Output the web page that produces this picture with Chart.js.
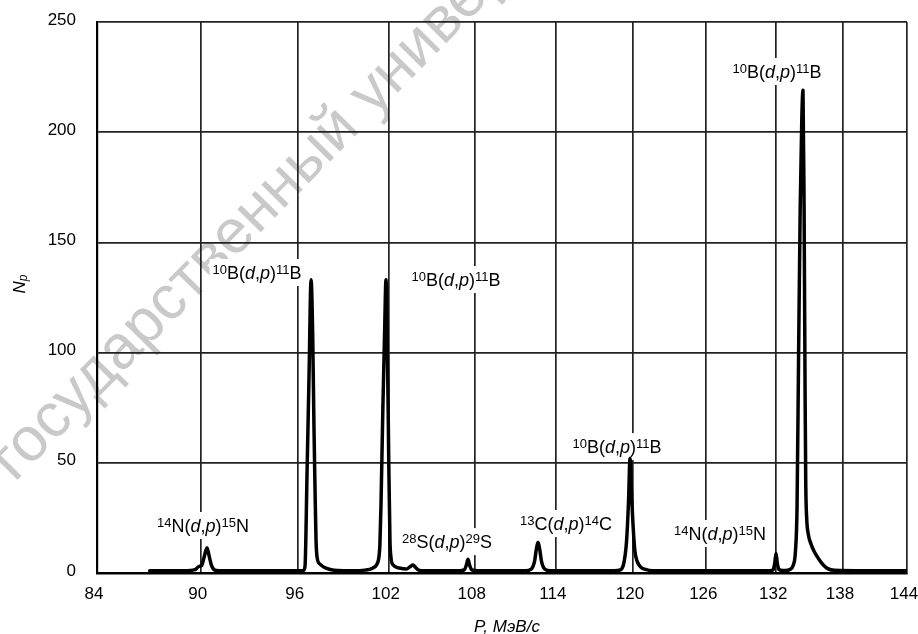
<!DOCTYPE html>
<html>
<head>
<meta charset="utf-8">
<script src="https://cdn.jsdelivr.net/npm/chart.js@4.4.1/dist/chart.umd.min.js"></script>
<style>
  html, body { margin: 0; padding: 0; background: #fff; }
  #wrap { width: 918px; height: 634px; position: relative; }
</style>
</head>
<body>
<div id="wrap"><canvas id="spectrum"></canvas></div>
<script>
// proton momentum P (MeV/c) and counts Np
var momentum = [
  87.0, 89.0, 89.66, 89.9, 90.05, 90.2, 90.38, 90.5, 90.65, 90.85, 91.1, 93.5,
  95.8, 96.35, 96.47, 96.6, 96.73, 96.86, 96.96, 97.05, 97.11, 97.18, 97.25, 97.44, 97.7, 98.1, 98.6, 99.5,
  100.4, 100.9, 101.2, 101.33, 101.4, 101.47, 101.6, 101.72, 101.81, 101.92, 102.0, 102.08, 102.15, 102.3, 102.7,
  103.2, 103.45, 103.66, 103.85, 104.05, 104.4,
  106.9, 107.25, 107.4, 107.52, 107.64, 107.8, 108.2,
  111.7, 112.15, 112.38, 112.53, 112.65, 112.77, 112.92, 113.15, 113.6,
  118.5, 119.0, 119.25, 119.48, 119.64, 119.76, 119.88, 120.0, 120.15, 120.32, 120.6, 121.0, 121.6, 126.5,
  131.2, 131.7, 131.87, 131.98, 132.09, 132.26, 132.55,
  132.8, 133.2, 133.5, 133.7, 133.84, 133.98, 134.12, 134.26, 134.37, 134.47, 134.56, 134.62, 134.7, 134.85,
  135.1, 135.4, 135.8, 136.2, 136.6, 137.2, 140, 144
];
var counts = [
  1, 1, 1.5, 3, 3.3, 7, 11.5, 8, 3.5, 1.3, 1, 1,
  1, 1.1, 3, 45, 90, 133, 110, 65, 40, 15, 7, 4, 2.6, 1.6, 1.1, 1,
  1.3, 2.2, 4, 7, 13, 30, 75, 110, 133, 95, 50, 15, 7, 3.6, 2.3,
  1.8, 2.8, 3.6, 2.4, 1.3, 1,
  1, 1.4, 3.5, 6.2, 3.5, 1.4, 1,
  1, 1.8, 5, 11, 14, 11, 5, 1.8, 1,
  1, 1.4, 4, 14, 32, 52, 36, 22, 10, 5.5, 2.8, 1.6, 1, 1,
  1, 1.3, 4.5, 9, 4.5, 1.5, 1.1,
  1.1, 1.6, 3.5, 10, 30, 100, 165, 205, 219, 165, 80, 40, 25, 17.5,
  13, 9.5, 6.2, 3.6, 2, 1.2, 1, 1
];
var xTicks = [84, 90, 96, 102, 108, 114, 120, 126, 132, 138, 144];
var yTicks = [0, 50, 100, 150, 200, 250];

// reaction labels: where they sit (P, Np of the text baseline) and the nuclei
var reactionX = [90.14, 93.44, 106.66, 106.03, 114.77, 118.73, 127.15, 132.07];
var reactionY = [18.6, 133.4, 130.2, 11.3, 19.5, 54.4, 15.0, 224.6];
var reactionNuclei = [
  ['14', 'N', '15', 'N'],
  ['10', 'B', '11', 'B'],
  ['10', 'B', '11', 'B'],
  ['28', 'S', '29', 'S'],
  ['13', 'C', '14', 'C'],
  ['10', 'B', '11', 'B'],
  ['14', 'N', '15', 'N'],
  ['10', 'B', '11', 'B']
];

var FONT = '"Liberation Sans", Arial, sans-serif';

function drawReaction(ctx, cx, base, n) {
  var main = '18px ' + FONT, ital = 'italic 18px ' + FONT, sup = '13px ' + FONT;
  var segs = [
    { t: n[0], f: sup, dy: -5 },
    { t: n[1] + '(', f: main, dy: 0 },
    { t: 'd', f: ital, dy: 0 },
    { t: ',', f: main, dy: 0 },
    { t: 'p', f: ital, dy: 0 },
    { t: ')', f: main, dy: 0 },
    { t: n[2], f: sup, dy: -5 },
    { t: n[3], f: main, dy: 0 }
  ];
  var w = 0;
  segs.forEach(function (s) { ctx.font = s.f; s.w = ctx.measureText(s.t).width; w += s.w; });
  var x = cx - w / 2;
  ctx.fillStyle = '#fff';
  ctx.fillRect(x - 3, base - 20, w + 6, 27);
  ctx.fillStyle = '#000';
  ctx.textBaseline = 'alphabetic';
  ctx.textAlign = 'left';
  segs.forEach(function (s) {
    ctx.font = s.f;
    ctx.fillText(s.t, x, base + s.dy);
    x += s.w;
  });
}

var decor = {
  id: 'decor',
  beforeDraw: function (chart) {
    var ctx = chart.ctx;
    ctx.save();
    ctx.fillStyle = '#fff';
    ctx.fillRect(0, 0, chart.width, chart.height);
    // faint watermark
    ctx.translate(31, 443);
    ctx.rotate(-45.5 * Math.PI / 180);
    ctx.font = '62px ' + FONT;
    ctx.fillStyle = '#c9c9c9';
    ctx.textBaseline = 'alphabetic';
    var off = ctx.measureText('г').width + ctx.measureText('о').width / 2;
    ctx.fillText('государственный универ', -off, 16);
    ctx.restore();
  },
  beforeDatasetsDraw: function (chart) {
    var ctx = chart.ctx, xs = chart.scales.x, ys = chart.scales.y;
    ctx.save();
    for (var i = 0; i < reactionX.length; i++) {
      drawReaction(ctx, xs.getPixelForValue(reactionX[i]), ys.getPixelForValue(reactionY[i]), reactionNuclei[i]);
    }
    ctx.restore();
  },
  afterDraw: function (chart) {
    var ctx = chart.ctx, area = chart.chartArea;
    ctx.save();
    ctx.fillStyle = '#000';
    ctx.textBaseline = 'alphabetic';
    // x title
    ctx.font = 'italic 17px ' + FONT;
    ctx.textAlign = 'center';
    ctx.fillText('P, МэВ/с', (area.left + area.right) / 2 + 5, 632);
    // y title N_p
    ctx.translate(25, 284);
    ctx.rotate(-Math.PI / 2);
    ctx.textAlign = 'left';
    ctx.font = 'italic 17px ' + FONT;
    var wN = ctx.measureText('N').width;
    ctx.font = 'italic 12px ' + FONT;
    var wp = ctx.measureText('p').width;
    var x0 = -(wN + wp) / 2;
    ctx.font = 'italic 17px ' + FONT;
    ctx.fillText('N', x0, 0);
    ctx.font = 'italic 12px ' + FONT;
    ctx.fillText('p', x0 + wN, 2);
    ctx.restore();
  }
};

var chart = new Chart(document.getElementById('spectrum'), {
  type: 'line',
  data: {
    datasets: [{
      data: momentum.map(function (p, i) { return { x: p, y: counts[i] }; }),
      borderColor: '#000',
      borderWidth: 3.5,
      pointRadius: 0,
      fill: false,
      cubicInterpolationMode: 'monotone',
      borderJoinStyle: 'round',
      borderCapStyle: 'round'
    }]
  },
  options: {
    responsive: true,
    maintainAspectRatio: false,
    animation: false,
    layout: { padding: { top: 22, right: 11, left: 0, bottom: 0 } },
    plugins: { legend: { display: false }, tooltip: { enabled: false } },
    scales: {
      x: {
        type: 'logarithmic',
        min: 84,
        max: 144,
        afterBuildTicks: function (s) { s.ticks = xTicks.map(function (v) { return { value: v }; }); },
        afterFit: function (s) { s.height = 61; s.paddingLeft = 0; s.paddingRight = 0; },
        grid: { color: '#222', lineWidth: 1.7, drawTicks: false },
        border: { color: '#000', width: 2.5 },
        ticks: {
          autoSkip: false, maxRotation: 0, padding: 11, labelOffset: -3,
          color: '#000', font: { family: FONT, size: 17 },
          callback: function (v) { return String(v); }
        }
      },
      y: {
        type: 'linear',
        min: 0,
        max: 250,
        afterBuildTicks: function (s) { s.ticks = yTicks.map(function (v) { return { value: v }; }); },
        afterFit: function (s) { s.width = 97; s.paddingTop = 0; s.paddingBottom = 0; },
        grid: { color: '#222', lineWidth: 1.7, drawTicks: false },
        border: { color: '#000', width: 2.2 },
        ticks: {
          padding: 21, labelOffset: -2,
          color: '#000', font: { family: FONT, size: 17 }
        }
      }
    }
  },
  plugins: [decor]
});
</script>
</body>
</html>
